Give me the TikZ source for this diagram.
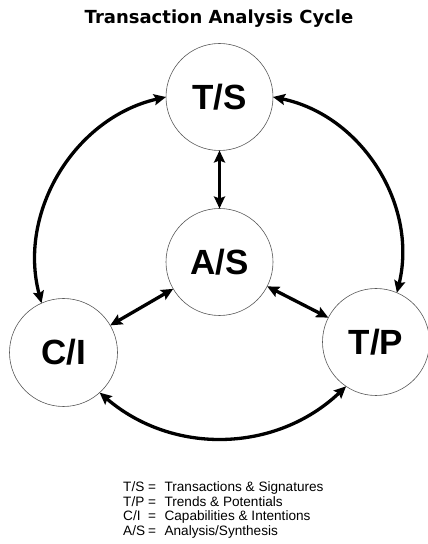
\documentclass[tikz,border=0pt]{standalone}
\usepackage{fontspec}
\setmainfont{Liberation Sans}
\newfontfamily\titlefont{DejaVu Sans}
\usetikzlibrary{arrows.meta}
\tikzset{
  circ/.style={circle, draw=black!65, line width=0.6pt, inner sep=0pt, outer sep=0pt,
    minimum size=107pt, font=\fontsize{35}{40}\selectfont\bfseries},
  link/.style={line width=3.3pt, {Stealth[length=12pt,width=11pt,inset=2pt]}-{Stealth[length=12pt,width=11pt,inset=2pt]}}
}
\begin{document}
\begin{tikzpicture}[x=1pt,y=1pt]
\useasboundingbox (0,0) rectangle (428,544);
\node[anchor=base, inner sep=0pt, font=\titlefont\bfseries\fontsize{18}{20}\selectfont] (title) at (219,520) {Transaction Analysis Cycle};
\node[circ] (ts) at (219.5,447) {T/S};
\node[circ] (as) at (219.5,282) {A/S};
\node[circ, minimum size=108pt] (ci) at (63.5,191.5) {C/I};
\node[circ] (tp) at (376,202) {T/P};
\draw[link] (ts) -- (as);
\draw[link] (as) -- (ci);
\draw[link] (as) -- (tp);
\draw[link] (ci.114) to[bend left=46] (ts.180);
\draw[link] (ts.0) to[bend left=46] (tp.67);
\draw[link] (ci.-48) to[bend right=42] (tp.-124);
\node[anchor=base west, inner sep=0pt, font=\fontsize{13.6}{14.5}\selectfont] (legend) at (123,52)
{\begin{tabular}[t]{@{}l@{\hspace{3pt}}l@{\hspace{8.5pt}}l@{}}
T/S & = & Transactions \& Signatures\\
T/P & = & Trends \& Potentials\\
C/I & = & Capabilities \& Intentions\\
A/S & = & Analysis/Synthesis
\end{tabular}};
\end{tikzpicture}
\end{document}
